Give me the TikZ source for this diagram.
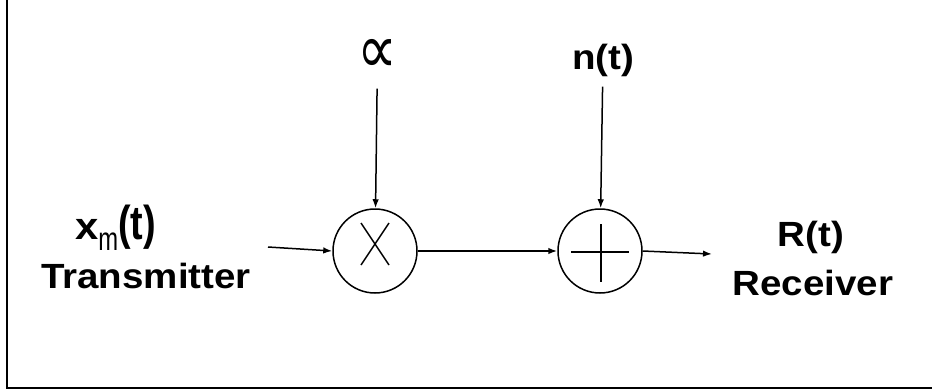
\documentclass[tikz,border=0pt]{standalone}
\usepackage{fontspec}
\setmainfont{Liberation Sans}
\newfontfamily\symfont{DejaVu Sans}
\usetikzlibrary{arrows.meta,calc}
\tikzset{
  conn/.style={line width=1.5pt,-{Latex[length=9pt,width=6.5pt]}},
  opcircle/.style={circle,draw,line width=1.5pt,minimum size=84pt,inner sep=0pt},
  lbl/.style={inner sep=0pt,font=\bfseries\fontsize{35}{40}\selectfont,xscale=1.1},
  opsign/.style={line width=1.4pt}
}
\begin{document}
\begin{tikzpicture}[x=1pt,y=-1pt]
\useasboundingbox (0,0) rectangle (932,391);
\fill[white] (0,0) rectangle (932,391);
\draw[line width=2pt] (7,0) -- (7,388) -- (932,388);
% nodes
\node[opcircle] (mult) at (375,251) {};
\node[opcircle] (add) at (600,251) {};
\draw[opsign] ($(mult.center)+(-14,-28)$) -- ($(mult.center)+(14,14)$);
\draw[opsign] ($(mult.center)+(14,-28)$) -- ($(mult.center)+(-14,14)$);
\draw[opsign] ($(add.center)+(-29,1)$) -- ($(add.center)+(29,1)$);
\draw[opsign] ($(add.center)+(1,-27)$) -- ($(add.center)+(1,31)$);
\node[inner sep=0pt,font=\symfont\fontsize{56}{60}\selectfont] (alpha) at (377.5,56.5) {\scalebox{1}[1.25]{∝}};
\node[lbl] (noise) at (603,60) {n(t)};
\node[inner sep=0pt,anchor=base west,font=\bfseries] (xm) at (75,239)
  {\scalebox{1.1}[1]{\fontsize{38}{40}\selectfont x}\raisebox{-11pt}{\mdseries\fontsize{28}{30}\selectfont\scalebox{0.85}[1.17]{m}}\scalebox{1.08}[1.36]{\fontsize{35}{40}\selectfont(t)}};
\node[lbl,anchor=base] (tx) at (146,288) {Transmitter};
\node[lbl,anchor=base] (rt) at (811,246) {R(t)};
\node[lbl,anchor=base] (rx) at (813,295) {Receiver};
\coordinate (in) at (268,247);
\coordinate (out) at (712,254);
% connectors
\draw[conn,shorten <=15pt] (alpha) -- (mult);
\draw[conn,shorten <=10pt] (noise) -- (add);
\draw[conn] (in) -- (mult.west);
\draw[conn] (mult) -- (add);
\draw[conn] (add.east) -- (out);
\end{tikzpicture}
\end{document}
